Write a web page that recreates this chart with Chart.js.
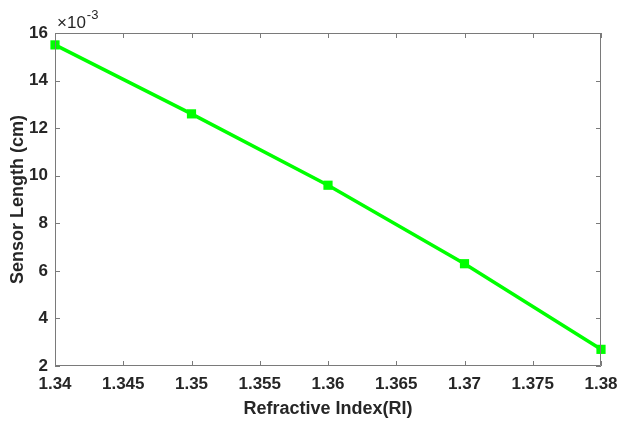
<!DOCTYPE html>
<html>
<head>
<meta charset="utf-8">
<script src="https://cdn.jsdelivr.net/npm/chart.js@4.4.1/dist/chart.umd.min.js"></script>
<style>
  html, body { margin: 0; padding: 0; background: #fff; }
  #wrap { width: 617px; height: 421px; position: relative; }
</style>
</head>
<body>
<div id="wrap"><canvas id="rlChart"></canvas></div>
<script>
// refractive index vs sensor length (values in 1e-3 cm)
const refractiveIndex = [1.34, 1.35, 1.36, 1.37, 1.38];
const sensorLength = [15.5, 12.6, 9.6, 6.3, 2.7];

const xMin = 1.34, xMax = 1.38, xStep = 0.005;
const yMin = 2, yMax = 16, yStep = 2;
const yExponent = '-3';

const axisColor = '#7a7a7a';
const textColor = '#262626';
const fontFamily = '"Liberation Sans", Arial, sans-serif';

// box round the plot with inward ticks, MATLAB style
const boxPlugin = {
    id: 'boxTicks',
    afterDraw(chart) {
        const { ctx, chartArea: a, scales } = chart;
        const tick = 5;
        ctx.save();
        ctx.strokeStyle = axisColor;
        ctx.lineWidth = 1;
        ctx.beginPath();
        ctx.rect(a.left + 0.5, a.top + 0.5, a.right - a.left - 1, a.bottom - a.top - 1);
        scales.x.ticks.forEach(t => {
            const px = Math.round(scales.x.getPixelForValue(t.value)) + 0.5;
            ctx.moveTo(px, a.bottom); ctx.lineTo(px, a.bottom - tick);
            ctx.moveTo(px, a.top); ctx.lineTo(px, a.top + tick);
        });
        scales.y.ticks.forEach(t => {
            const py = Math.round(scales.y.getPixelForValue(t.value)) + 0.5;
            ctx.moveTo(a.left, py); ctx.lineTo(a.left + tick, py);
            ctx.moveTo(a.right, py); ctx.lineTo(a.right - tick, py);
        });
        ctx.stroke();

        // exponent label above the y axis
        ctx.fillStyle = textColor;
        ctx.textBaseline = 'alphabetic';
        ctx.textAlign = 'left';
        ctx.font = '17px ' + fontFamily;
        ctx.fillText('\u00d710', a.left + 2, a.top - 5);
        const w = ctx.measureText('\u00d710').width;
        ctx.font = '13px ' + fontFamily;
        ctx.fillText(yExponent, a.left + 2 + w + 1, a.top - 14);
        ctx.restore();
    }
};

const ctx = document.getElementById('rlChart').getContext('2d');
new Chart(ctx, {
    type: 'line',
    data: {
        datasets: [{
            data: refractiveIndex.map((x, i) => ({ x, y: sensorLength[i] })),
            borderColor: '#00ff00',
            backgroundColor: '#00ff00',
            borderWidth: 3.5,
            pointStyle: 'rect',
            pointRadius: 6.5,
            pointBorderWidth: 0,
            tension: 0,
            clip: false
        }]
    },
    options: {
        responsive: true,
        maintainAspectRatio: false,
        animation: false,
        events: [],
        layout: { padding: { top: 33, right: 16, left: 0, bottom: 0 } },
        plugins: {
            legend: { display: false },
            tooltip: { enabled: false }
        },
        scales: {
            x: {
                type: 'linear',
                min: xMin,
                max: xMax,
                border: { display: false },
                grid: { display: false, drawTicks: false },
                ticks: {
                    stepSize: xStep,
                    padding: 8,
                    color: textColor,
                    font: { family: fontFamily, size: 17, weight: 'bold' },
                    maxRotation: 0,
                    callback: v => +v.toFixed(3)
                },
                title: {
                    display: true,
                    text: 'Refractive Index(RI)',
                    color: textColor,
                    font: { family: fontFamily, size: 18, weight: 'bold' },
                    padding: { top: 0, bottom: 1 }
                },
                afterFit: s => {
                    s.height = 55;
                    s.paddingLeft = 0;
                    s.paddingRight = 0;
                }
            },
            y: {
                min: yMin,
                max: yMax,
                border: { display: false },
                grid: { display: false, drawTicks: false },
                ticks: {
                    stepSize: yStep,
                    padding: 7,
                    color: textColor,
                    font: { family: fontFamily, size: 17, weight: 'bold' }
                },
                title: {
                    display: true,
                    text: 'Sensor Length (cm)',
                    color: textColor,
                    font: { family: fontFamily, size: 18, weight: 'bold' },
                    padding: { top: 7, bottom: 0 }
                },
                afterFit: s => {
                    s.width = 55;
                    s.paddingTop = 0;
                    s.paddingBottom = 0;
                }
            }
        }
    },
    plugins: [boxPlugin]
});
</script>
</body>
</html>
